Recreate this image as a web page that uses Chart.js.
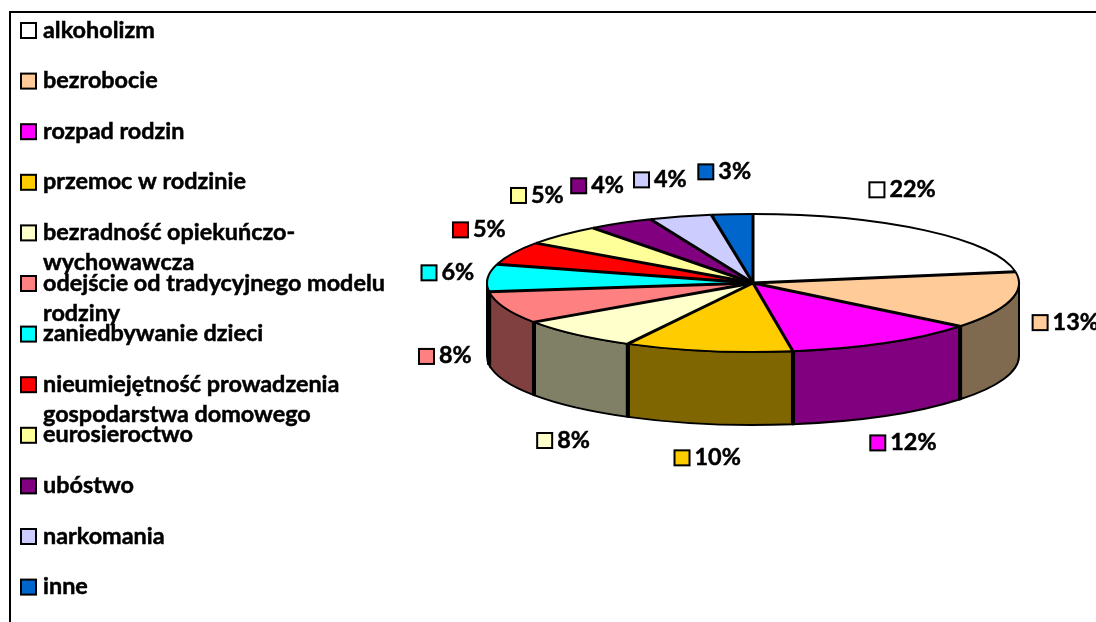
<!DOCTYPE html>
<html lang="pl">
<head>
<meta charset="utf-8">
<title>Wykres</title>
<style>
    html, body { margin: 0; padding: 0; background: #fff; overflow: hidden; }
    canvas { display: block; }
</style>
<script src="https://cdn.jsdelivr.net/npm/chart.js@4"></script>
</head>
<body>
<canvas id="pieChart" width="1096" height="622"></canvas>
<script>
var categories = ['alkoholizm', 'bezrobocie', 'rozpad rodzin', 'przemoc w rodzinie',
    'bezradność opiekuńczo-\nwychowawcza', 'odejście od tradycyjnego modelu\nrodziny',
    'zaniedbywanie dzieci', 'nieumiejętność prowadzenia\ngospodarstwa domowego',
    'eurosieroctwo', 'ubóstwo', 'narkomania', 'inne'];
// shares estimated from the slices, they round to the printed percentages
var values = [22.4, 13.4, 11.8, 10.2, 7.6, 7.6, 6.4, 5.4, 4.9, 4, 3.8, 2.5];
var colors = ['#FFFFFF', '#FFCC99', '#FF00FF', '#FFCC00', '#FFFFCC', '#FF8080',
    '#00FFFF', '#FF0000', '#FFFF99', '#800080', '#CCCCFF', '#0066CC'];
var sideColors = ['#808080', '#806A4F', '#800080', '#806600', '#808066', '#804040',
    '#008080', '#800000', '#80804D', '#400040', '#666680', '#003366'];

// fine tuning of the percent labels around their default spot
var labelNudges = [[-51, -6], [13, -8], [-4, -1], [7, -8], [17, 19], [-18, 7],
    [4, -2], [6, -4], [7, -8], [-1, 2], [-8, 7], [-4, 3]];

var FONT = 'bold 23.4px Lato, "Open Sans", sans-serif';
var TILT = 69 / 266;
var DEPTH = 73;

function swatch(ctx, x, y, color) {
    ctx.fillStyle = color;
    ctx.strokeStyle = '#000';
    ctx.lineWidth = 2;
    ctx.fillRect(x, y - 7, 15, 15);
    ctx.strokeRect(x, y - 7, 15, 15);
}

// text is a little heavier in the original than plain bold
function heavyText(ctx, text, x, y) {
    ctx.fillStyle = '#000';
    ctx.strokeStyle = '#000';
    ctx.lineWidth = 0.5;
    ctx.fillText(text, x, y);
    ctx.strokeText(text, x, y);
}

var pie3d = {
    id: 'pie3d',
    beforeDraw: function (chart) {
        var ctx = chart.ctx;
        ctx.save();
        ctx.strokeStyle = '#000';
        ctx.lineWidth = 2;
        ctx.strokeRect(10, 12, 1200, 800);
        ctx.restore();
    },
    // sides go first, then the slices are drawn by the chart squashed into an ellipse
    beforeDatasetsDraw: function (chart) {
        var ctx = chart.ctx;
        var arcs = chart.getDatasetMeta(0).data;
        ctx.save();
        arcs.forEach(function (arc, i) {
            var ry = arc.outerRadius * TILT;
            var a0 = Math.max(arc.startAngle, 0);
            var a1 = Math.min(arc.endAngle, Math.PI);
            if (a1 <= a0) return;
            ctx.beginPath();
            ctx.ellipse(arc.x, arc.y, arc.outerRadius, ry, 0, a0, a1);
            ctx.ellipse(arc.x, arc.y + DEPTH, arc.outerRadius, ry, 0, a1, a0, true);
            ctx.closePath();
            ctx.fillStyle = sideColors[i];
            ctx.fill();
            ctx.strokeStyle = '#000';
            ctx.lineWidth = 2;
            ctx.stroke();
            // thick edge between two side panels
            ctx.lineWidth = 4;
            [a0, a1].forEach(function (a) {
                if (a <= 0 || a >= Math.PI) return;
                var x = arc.x + arc.outerRadius * Math.cos(a);
                var y = arc.y + ry * Math.sin(a);
                ctx.beginPath();
                ctx.moveTo(x, y);
                ctx.lineTo(x, y + DEPTH);
                ctx.stroke();
            });
        });
        ctx.restore();

        var c = arcs[0];
        ctx.save();
        ctx.translate(c.x, c.y);
        ctx.scale(1, TILT);
        ctx.translate(-c.x, -c.y);
    },
    afterDatasetsDraw: function (chart) {
        var ctx = chart.ctx;
        var arcs = chart.getDatasetMeta(0).data;
        ctx.restore();

        ctx.save();
        ctx.strokeStyle = '#000';
        ctx.lineJoin = 'round';
        arcs.forEach(function (arc) {
            var ry = arc.outerRadius * TILT;
            ctx.lineWidth = 2;
            ctx.beginPath();
            ctx.ellipse(arc.x, arc.y, arc.outerRadius, ry, 0, arc.startAngle, arc.endAngle);
            ctx.stroke();
            ctx.lineWidth = 3;
            ctx.beginPath();
            ctx.moveTo(arc.x, arc.y);
            ctx.lineTo(arc.x + arc.outerRadius * Math.cos(arc.startAngle),
                arc.y + ry * Math.sin(arc.startAngle));
            ctx.stroke();
        });
        ctx.restore();
    },
    afterDraw: function (chart) {
        var ctx = chart.ctx;
        var arcs = chart.getDatasetMeta(0).data;
        ctx.save();
        ctx.font = FONT;
        ctx.textBaseline = 'middle';

        // legend on the left, wrapped rows run into the next one like in the original
        categories.forEach(function (name, i) {
            var y = 30 + i * 50.6;
            swatch(ctx, 21, y, colors[i]);
            name.split('\n').forEach(function (line, n) {
                heavyText(ctx, line, 43, y + n * 30);
            });
        });

        // percent labels around the pie
        arcs.forEach(function (arc, i) {
            var mid = (arc.startAngle + arc.endAngle) / 2;
            var text = Math.round(values[i]) + '%';
            var sin = Math.sin(mid);
            var cx = arc.x + 310 * Math.cos(mid) + labelNudges[i][0];
            var cy = arc.y + (sin > 0 ? 185 : 115) * sin + labelNudges[i][1];
            var left = cx - (20 + ctx.measureText(text).width) / 2;
            swatch(ctx, left, cy, colors[i]);
            heavyText(ctx, text, left + 20, cy);
        });
        ctx.restore();
    }
};

new Chart(document.getElementById('pieChart').getContext('2d'), {
    type: 'pie',
    data: {
        labels: categories,
        datasets: [{
            data: values,
            backgroundColor: colors,
            borderWidth: 0,
            clip: false
        }]
    },
    options: {
        responsive: false,
        animation: false,
        radius: 266,
        layout: { padding: { left: 410, bottom: 56 } },
        plugins: {
            legend: { display: false },
            tooltip: { enabled: false }
        }
    },
    plugins: [pie3d]
});
</script>
</body>
</html>
